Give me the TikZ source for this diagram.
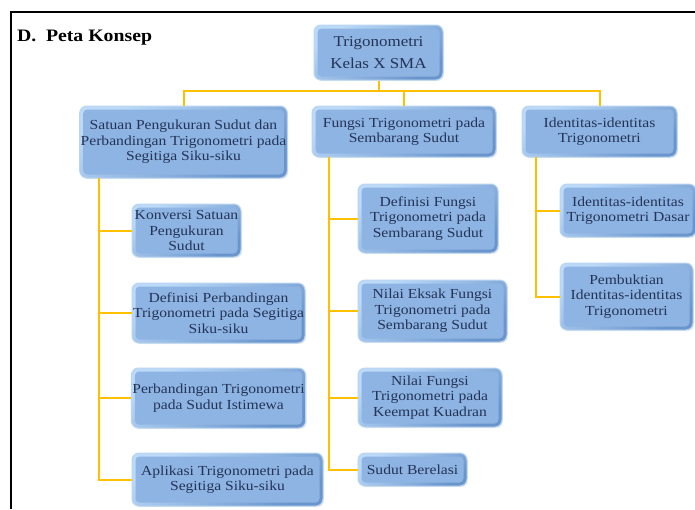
\documentclass[tikz,border=0pt]{standalone}
\usepackage{fontspec}
\setmainfont[FakeStretch=1.13]{Liberation Serif}
\usetikzlibrary{shadows}
\definecolor{boxlight}{HTML}{BCDAF8}
\definecolor{boxdark}{HTML}{6A95CC}
\definecolor{boxmid}{HTML}{8DB4E3}
\definecolor{boxedge}{HTML}{B9D5F2}
\definecolor{boxtext}{HTML}{243356}
\definecolor{lineyel}{HTML}{FFC000}
\tikzset{
  cbox/.style={rectangle, rounded corners=7pt, top color=boxlight, bottom color=boxdark,
    shading angle=35,
    draw=boxedge, line width=1pt, align=center, inner sep=1pt, text=boxtext,
    font=\fontsize{13.8}{15.5}\selectfont,
    path picture={\fill[boxmid, rounded corners=4pt]
      ([shift={(3.5pt,3.5pt)}]path picture bounding box.south west) rectangle
      ([shift={(-3.5pt,-3.5pt)}]path picture bounding box.north east);},
    drop shadow={opacity=0.15, shadow xshift=1.2pt, shadow yshift=-1.2pt}},
  conn/.style={draw=lineyel, line width=2pt},
}
\begin{document}
\begin{tikzpicture}[x=1pt,y=-1pt]
\useasboundingbox (0,0) rectangle (695,509);
% frame
\draw[line width=1.6pt] (11,509) -- (11,12) -- (695,12);
\node[anchor=base west, font=\bfseries\fontsize{17.5}{19}\selectfont, inner sep=0] (title) at (17,41) {D.\hspace{0.55em}Peta Konsep};
% connectors
\coordinate (bus) at (378,91);
\coordinate (Astem) at (99,178);
\coordinate (Bstem) at (329,157);
\coordinate (Cstem) at (536,157);
% nodes
\node[cbox, minimum width=129pt, minimum height=55pt, font=\fontsize{15}{22}\selectfont] (root) at (378.5,52.5) {Trigonometri\\Kelas X SMA};
\node[cbox, minimum width=207pt, minimum height=72pt] (A) at (183.5,142) {Satuan Pengukuran Sudut dan\\Perbandingan Trigonometri pada\\Segitiga Siku-siku};
\node[cbox, minimum width=184pt, minimum height=51pt] (B) at (404,131.5) {Fungsi Trigonometri pada\\Sembarang Sudut};
\node[cbox, minimum width=155pt, minimum height=51pt] (C) at (599.5,131.5) {Identitas-identitas\\Trigonometri};
\node[cbox, minimum width=109pt, minimum height=53pt] (A1) at (186.5,230.5) {Konversi Satuan\\Pengukuran\\Sudut};
\node[cbox, minimum width=173pt, minimum height=60pt] (A2) at (218.5,313) {Definisi Perbandingan\\Trigonometri pada Segitiga\\Siku-siku};
\node[cbox, minimum width=173pt, minimum height=60pt] (A3) at (218.5,398) {Perbandingan Trigonometri\\pada Sudut Istimewa};
\node[cbox, minimum width=191pt, minimum height=53pt] (A4) at (227.5,479.5) {Aplikasi Trigonometri pada\\Segitiga Siku-siku};
\node[cbox, minimum width=140pt, minimum height=69pt] (B1) at (428,218.5) {Definisi Fungsi\\Trigonometri pada\\Sembarang Sudut};
\node[cbox, minimum width=149pt, minimum height=62pt] (B2) at (432.5,311) {Nilai Eksak Fungsi\\Trigonometri pada\\Sembarang Sudut};
\node[cbox, minimum width=144pt, minimum height=59pt] (B3) at (430,397.5) {Nilai Fungsi\\Trigonometri pada\\Keempat Kuadran};
\node[cbox, minimum width=109pt, minimum height=33pt] (B4) at (412.5,469.5) {Sudut Berelasi};
\node[cbox, minimum width=136pt, minimum height=53pt] (C1) at (628,210.5) {Identitas-identitas\\Trigonometri Dasar};
\node[cbox, minimum width=133pt, minimum height=67pt] (C2) at (626.5,296.5) {Pembuktian\\Identitas-identitas\\Trigonometri};
% connector lines
\draw[conn] (root.south) -- (root.south |- bus);
\draw[conn] (A.north) -- (A.north |- bus) -- (C.north |- bus) -- (C.north);
\draw[conn] (B.north) -- (B.north |- bus);
\draw[conn] (Astem) -- (Astem |- A4.west) -- (A4.west);
\draw[conn] (Astem |- A1.west) -- (A1.west);
\draw[conn] (Astem |- A2.west) -- (A2.west);
\draw[conn] (Astem |- A3.west) -- (A3.west);
\draw[conn] (Bstem) -- (Bstem |- B4.west) -- (B4.west);
\draw[conn] (Bstem |- B1.west) -- (B1.west);
\draw[conn] (Bstem |- B2.west) -- (B2.west);
\draw[conn] (Bstem |- B3.west) -- (B3.west);
\draw[conn] (Cstem) -- (Cstem |- C2.west) -- (C2.west);
\draw[conn] (Cstem |- C1.west) -- (C1.west);
\end{tikzpicture}
\end{document}
